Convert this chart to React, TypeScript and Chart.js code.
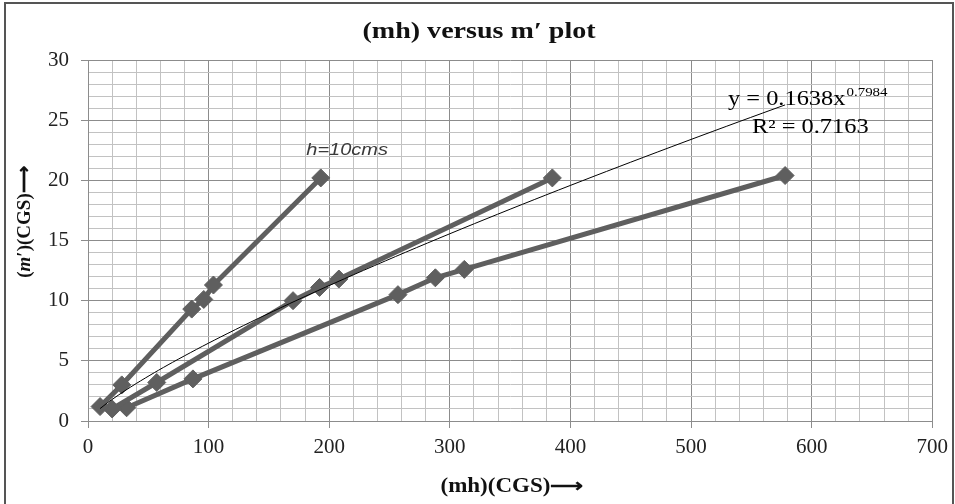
import React, { useEffect, useRef } from 'react';
import { Chart, registerables } from 'chart.js';

Chart.register(...registerables);

// ---- data ----
const seriesAX = [10, 28, 86, 96, 104, 193];
const seriesAY = [1.2, 3.0, 9.3, 10.1, 11.3, 20.2];
const seriesBX = [20, 57, 170, 192, 208, 385];
const seriesBY = [1.0, 3.2, 10.0, 11.1, 11.8, 20.2];
const seriesCX = [32, 87, 257, 288, 312, 578];
const seriesCY = [1.1, 3.5, 10.5, 11.9, 12.6, 20.4];

// power trendline shown in the chart: y = 0.1638 x^0.7984, R² = 0.7163
const trendCoef = 0.1638;
const trendExp = 0.7984;
const trendR2 = '0.7163';
const trendXs = [10, 15, 20, 30, 40, 55, 70, 90, 110, 135, 160, 190, 220, 255, 290, 330, 370, 410, 450, 495, 540, 578];

const xTickLabels = [0, 100, 200, 300, 400, 500, 600, 700];
const yTickLabels = [0, 5, 10, 15, 20, 25, 30];

const titleText = '(mh) versus m\u2032 plot';
const xTitleText = '(mh)(CGS)\u27F6';
const annotationText = 'h=10cms';

const LINE_COLOR = '#5f5f5f';
const MAJOR_GRID = '#8c8c8c';
const MINOR_GRID = '#c2c2c2';

const toPoints = (xs: number[], ys: number[]) => xs.map((x, i) => ({ x, y: ys[i] }));

function drawStretched(ctx: CanvasRenderingContext2D, text: string, x: number, y: number, sx: number, align: 'left' | 'center') {
  ctx.save();
  ctx.translate(x, y);
  ctx.scale(sx, 1);
  ctx.textAlign = align;
  ctx.fillText(text, 0, 0);
  ctx.restore();
}

const textPlugin = {
  id: 'textPlugin',
  afterDraw(chart: any) {
    const ctx: CanvasRenderingContext2D = chart.ctx;
    const xs = chart.scales.x;
    const ys = chart.scales.y;
    const area = chart.chartArea;
    ctx.save();
    ctx.fillStyle = '#111';
    ctx.textBaseline = 'middle';

    // chart title
    ctx.font = 'bold 23px "Liberation Serif", "Times New Roman", serif';
    drawStretched(ctx, titleText, 479, 32, 1.22, 'center');

    // x axis title
    ctx.font = 'bold 20px "Liberation Serif", "Times New Roman", serif';
    drawStretched(ctx, xTitleText, (area.left + area.right) / 2 + 2, 487, 1.15, 'center');

    // y axis title (rotated) : (m′)(CGS)⟶ with italic m
    ctx.save();
    ctx.translate(25, 222);
    ctx.rotate(-Math.PI / 2);
    const partA = '(';
    const partB = 'm';
    const partC = '\u2032)(CGS)\u27F6';
    ctx.font = 'bold 19px "Liberation Serif", "Times New Roman", serif';
    const wA = ctx.measureText(partA).width;
    const wC = ctx.measureText(partC).width;
    ctx.font = 'italic bold 19px "Liberation Serif", "Times New Roman", serif';
    const wB = ctx.measureText(partB).width;
    const total = wA + wB + wC;
    let cx = -total / 2;
    ctx.textAlign = 'left';
    ctx.font = 'bold 19px "Liberation Serif", "Times New Roman", serif';
    ctx.fillText(partA, cx, 0);
    cx += wA;
    ctx.font = 'italic bold 19px "Liberation Serif", "Times New Roman", serif';
    ctx.fillText(partB, cx, 0);
    cx += wB;
    ctx.font = 'bold 19px "Liberation Serif", "Times New Roman", serif';
    ctx.fillText(partC, cx, 0);
    ctx.restore();

    // series annotation
    ctx.fillStyle = '#3a3a3a';
    ctx.font = 'italic 16px "Liberation Sans", Arial, sans-serif';
    drawStretched(ctx, annotationText, xs.getPixelForValue(181), ys.getPixelForValue(22.5), 1.25, 'left');

    // trendline equation
    ctx.fillStyle = '#000';
    ctx.textBaseline = 'alphabetic';
    ctx.font = '20px "Liberation Serif", "Times New Roman", serif';
    const eqMain = 'y = ' + trendCoef + 'x';
    const eqX = 728;
    const eqY = 105;
    drawStretched(ctx, eqMain, eqX, eqY, 1.22, 'left');
    const mainW = ctx.measureText(eqMain).width * 1.22;
    ctx.font = '13px "Liberation Serif", "Times New Roman", serif';
    drawStretched(ctx, String(trendExp), eqX + mainW + 1, eqY - 9, 1.15, 'left');
    ctx.font = '20px "Liberation Serif", "Times New Roman", serif';
    drawStretched(ctx, 'R\u00B2 = ' + trendR2, 752, 133, 1.22, 'left');

    ctx.restore();
  },
};

export default function App() {
  const canvasRef = useRef<HTMLCanvasElement | null>(null);

  useEffect(() => {
    document.body.style.margin = '0';
    document.body.style.overflow = 'hidden';
    const canvas = canvasRef.current;
    if (!canvas) return;

    const trendPoints = trendXs.map((x) => ({ x, y: trendCoef * Math.pow(x, trendExp) }));

    const seriesStyle = {
      showLine: true,
      borderColor: LINE_COLOR,
      backgroundColor: LINE_COLOR,
      borderWidth: 5,
      pointStyle: 'rectRot',
      pointRadius: 9,
      pointBorderWidth: 1,
      pointBorderColor: LINE_COLOR,
      pointBackgroundColor: LINE_COLOR,
      tension: 0,
    };

    const tickFont = { family: '"Liberation Serif", "Times New Roman", serif', size: 21 };

    const chart = new Chart(canvas, {
      type: 'scatter',
      data: {
        datasets: [
          {
            label: 'Power trendline',
            data: trendPoints,
            showLine: true,
            borderColor: '#000',
            borderWidth: 1,
            pointRadius: 0,
            tension: 0.3,
            order: 0,
          } as any,
          { label: 'Series A', data: toPoints(seriesAX, seriesAY), order: 1, ...seriesStyle } as any,
          { label: 'Series B', data: toPoints(seriesBX, seriesBY), order: 1, ...seriesStyle } as any,
          { label: 'Series C', data: toPoints(seriesCX, seriesCY), order: 1, ...seriesStyle } as any,
        ],
      },
      options: {
        animation: false,
        responsive: true,
        maintainAspectRatio: false,
        layout: { padding: { top: 60, right: 18, left: 0, bottom: 0 } },
        plugins: {
          legend: { display: false },
          title: { display: false },
          tooltip: { enabled: false },
        },
        scales: {
          x: {
            type: 'linear',
            min: 0,
            max: 700,
            afterFit: (s: any) => {
              s.height = 83;
            },
            ticks: {
              stepSize: 20,
              autoSkip: false,
              maxRotation: 0,
              padding: 7,
              color: '#222',
              font: tickFont,
              callback: (v: any) => (xTickLabels.includes(Number(v)) ? String(v) : ''),
            },
            grid: {
              color: (c: any) => (xTickLabels.includes(c.tick?.value) ? MAJOR_GRID : MINOR_GRID),
              tickColor: (c: any) => (xTickLabels.includes(c.tick?.value) ? MAJOR_GRID : 'rgba(0,0,0,0)'),
              tickLength: 7,
              lineWidth: 1,
            },
            border: { color: MAJOR_GRID, width: 1 },
          },
          y: {
            type: 'linear',
            min: 0,
            max: 30,
            afterFit: (s: any) => {
              s.width = 88;
            },
            ticks: {
              stepSize: 1,
              autoSkip: false,
              padding: 12,
              color: '#222',
              font: tickFont,
              callback: (v: any) => (yTickLabels.includes(Number(v)) ? String(v) : ''),
            },
            grid: {
              color: (c: any) => (yTickLabels.includes(c.tick?.value) ? MAJOR_GRID : MINOR_GRID),
              tickColor: (c: any) => (yTickLabels.includes(c.tick?.value) ? MAJOR_GRID : 'rgba(0,0,0,0)'),
              tickLength: 7,
              lineWidth: 1,
            },
            border: { color: MAJOR_GRID, width: 1 },
          },
        },
      } as any,
      plugins: [textPlugin],
    });

    return () => {
      chart.destroy();
    };
  }, []);

  return (
    <div style={{ position: 'relative', width: 955, height: 504, background: '#fff', overflow: 'hidden' }}>
      <canvas ref={canvasRef} />
      <div
        style={{
          position: 'absolute',
          left: 4,
          top: 2,
          width: 946,
          height: 520,
          border: '2px solid #555',
          pointerEvents: 'none',
        }}
      />
    </div>
  );
}
